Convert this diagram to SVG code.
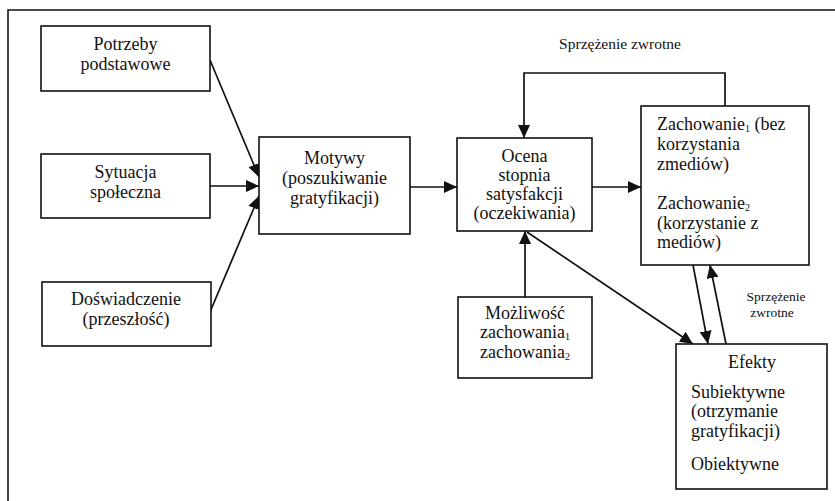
<svg xmlns="http://www.w3.org/2000/svg" width="835" height="501" viewBox="0 0 835 501">
<style>
  .box { fill: #fff; stroke: #111; stroke-width: 1.6; }
  .t { font-family: "Liberation Serif", "Times New Roman", serif; font-size: 18px; fill: #111; }
  .c { text-anchor: middle; }
  .s { font-size: 15.5px; }
  .xs { font-size: 13.5px; }
  .sub { font-size: 10px; }
  .ln { fill: none; stroke: #111; stroke-width: 1.7; }
</style>
<defs>
  <marker id="ah" markerUnits="userSpaceOnUse" markerWidth="14" markerHeight="12" refX="13" refY="6" orient="auto">
    <path d="M0,0 L13,6 L0,12 z" fill="#111"/>
  </marker>
</defs>
<rect width="835" height="501" fill="#fff"/>
<path d="M835,10 H8 V501" fill="none" stroke="#111" stroke-width="1.6"/>

<g id="connectors">
  <line class="ln" x1="210" y1="60" x2="259" y2="177" marker-end="url(#ah)"/>
  <line class="ln" x1="210" y1="186" x2="259" y2="186" marker-end="url(#ah)"/>
  <line class="ln" x1="210" y1="312" x2="259" y2="196" marker-end="url(#ah)"/>
  <line class="ln" x1="410" y1="187" x2="457" y2="187" marker-end="url(#ah)"/>
  <line class="ln" x1="592" y1="187" x2="641" y2="187" marker-end="url(#ah)"/>
  <polyline class="ln" points="725,106 725,73 524,73 524,138" marker-end="url(#ah)"/>
  <line class="ln" x1="525" y1="297" x2="525" y2="231" marker-end="url(#ah)"/>
  <line class="ln" x1="527" y1="232" x2="693" y2="344" marker-end="url(#ah)"/>
  <line class="ln" x1="693" y1="265" x2="708" y2="344" marker-end="url(#ah)"/>
  <line class="ln" x1="726" y1="344" x2="710" y2="265" marker-end="url(#ah)"/>
  <text class="t s c" x="620" y="49">Sprzężenie zwrotne</text>
  <text class="t xs c" x="776" y="301">Sprzężenie</text>
  <text class="t xs c" x="772" y="317">zwrotne</text>
</g>

<g id="potrzeby">
  <rect class="box" x="41" y="26" width="169" height="65"/>
  <text class="t c" x="125.5" y="50">Potrzeby</text>
  <text class="t c" x="125.5" y="70">podstawowe</text>
</g>
<g id="sytuacja">
  <rect class="box" x="41" y="154" width="169" height="64"/>
  <text class="t c" x="125.5" y="178">Sytuacja</text>
  <text class="t c" x="125.5" y="198">społeczna</text>
</g>
<g id="doswiadczenie">
  <rect class="box" x="42" y="282" width="169" height="64"/>
  <text class="t c" x="126" y="305">Doświadczenie</text>
  <text class="t c" x="126" y="325">(przeszłość)</text>
</g>
<g id="motywy">
  <rect class="box" x="259" y="137" width="151" height="97"/>
  <text class="t c" x="334.5" y="164">Motywy</text>
  <text class="t c" x="334.5" y="184">(poszukiwanie</text>
  <text class="t c" x="334.5" y="204">gratyfikacji)</text>
</g>
<g id="ocena">
  <rect class="box" x="457" y="138" width="135" height="93"/>
  <text class="t c" x="524.5" y="162">Ocena</text>
  <text class="t c" x="524.5" y="181">stopnia</text>
  <text class="t c" x="524.5" y="200">satysfakcji</text>
  <text class="t c" x="524.5" y="219">(oczekiwania)</text>
</g>
<g id="zachowanie">
  <rect class="box" x="641" y="106" width="168" height="159"/>
  <text class="t" x="657" y="130">Zachowanie<tspan class="sub" dy="2">1</tspan><tspan dy="-2"> (bez</tspan></text>
  <text class="t" x="657" y="150">korzystania</text>
  <text class="t" x="657" y="170">zmediów)</text>
  <text class="t" x="657" y="209">Zachowanie<tspan class="sub" dy="2">2</tspan></text>
  <text class="t" x="657" y="229">(korzystanie z</text>
  <text class="t" x="657" y="248">mediów)</text>
</g>
<g id="mozliwosc">
  <rect class="box" x="458" y="297" width="134" height="81"/>
  <text class="t c" x="525" y="319">Możliwość</text>
  <text class="t c" x="525" y="338">zachowania<tspan class="sub" dy="2">1</tspan></text>
  <text class="t c" x="525" y="358">zachowania<tspan class="sub" dy="2">2</tspan></text>
</g>
<g id="efekty">
  <rect class="box" x="676" y="344" width="151" height="145"/>
  <text class="t c" x="752" y="368">Efekty</text>
  <text class="t" x="691" y="398">Subiektywne</text>
  <text class="t" x="691" y="417">(otrzymanie</text>
  <text class="t" x="691" y="437">gratyfikacji)</text>
  <text class="t" x="691" y="470">Obiektywne</text>
</g>
</svg>
